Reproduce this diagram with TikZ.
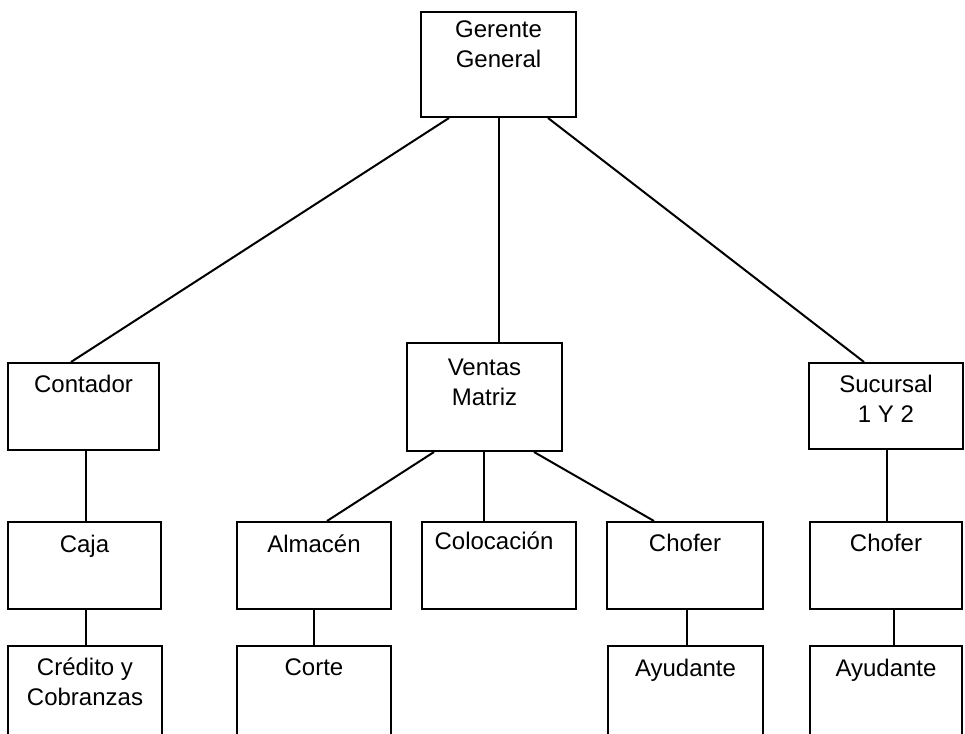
\documentclass[tikz,border=0pt]{standalone}
\usepackage{fontspec}
\setmainfont{Liberation Sans}
\begin{document}
\begin{tikzpicture}[x=1pt,y=1pt,
  box/.style={draw=black, line width=2pt, rectangle, inner sep=0pt,
              minimum width=#1},
  row1/.style={minimum height=87},
  txt/.style={anchor=base, align=center, inner sep=0pt,
              font=\fontsize{24}{30}\selectfont},
  link/.style={draw=black, line width=2pt}]
\useasboundingbox (0,0) rectangle (965,-733);
\clip (0,0) rectangle (965,-733);

% boxes
\node[box=155, minimum height=105] (ger)  at (498.5,-64.5) {};
\node[box=151, row1]               (cont) at (83.5,-406.5) {};
\node[box=155, minimum height=108] (ven)  at (484.5,-397) {};
\node[box=154, minimum height=86]  (suc)  at (886,-406) {};
\node[box=153, row1] (caja) at (84.5,-565.5) {};
\node[box=154, row1] (alm)  at (314,-565.5) {};
\node[box=154, row1] (col)  at (499,-565.5) {};
\node[box=156, row1] (cho)  at (685,-565.5) {};
\node[box=152, row1] (chob) at (886,-565.5) {};
\node[box=154, minimum height=120] (cred) at (85,-706) {};
\node[box=154, minimum height=120] (cort) at (314,-706) {};
\node[box=155, minimum height=120] (ayu)  at (685.5,-706) {};
\node[box=152, minimum height=120] (ayub) at (886,-706) {};

% labels (base anchor sits on the last line of a two-line text)
\node[txt] (ger-t)  at ([yshift=-57]ger.north)  {Gerente\\General};
\node[txt] (cont-t) at ([yshift=-30]cont.north) {Contador};
\node[txt] (ven-t)  at ([yshift=-63]ven.north)  {Ventas\\Matriz};
\node[txt] (suc-t)  at ([yshift=-60]suc.north)  {Sucursal\\1 Y 2};
\node[txt] (caja-t) at ([yshift=-31]caja.north) {Caja};
\node[txt] (alm-t)  at ([yshift=-31]alm.north)  {Almacén};
\node[txt] (col-t)  at ([xshift=-5,yshift=-28]col.north) {Colocación};
\node[txt] (cho-t)  at ([yshift=-30]cho.north)  {Chofer};
\node[txt] (chob-t) at ([yshift=-30]chob.north) {Chofer};
\node[txt] (cred-t) at ([yshift=-60]cred.north) {Crédito y\\Cobranzas};
\node[txt] (cort-t) at ([yshift=-30]cort.north) {Corte};
\node[txt] (ayu-t)  at ([yshift=-31]ayu.north)  {Ayudante};
\node[txt] (ayub-t) at ([yshift=-31]ayub.north) {Ayudante};

% connectors
\path[link] ([xshift=29]ger.south west) -- ([xshift=64]cont.north west);
\path[link] ([xshift=0.5]ger.south) -- ([xshift=0.5]ger.south |- ven.north);
\path[link] ([xshift=-29]ger.south east) -- ([xshift=56]suc.north west);
\path[link] ([xshift=2.5]cont.south) -- ([xshift=2.5]cont.south |- caja.north);
\path[link] ([xshift=1.5]caja.south) -- ([xshift=1.5]caja.south |- cred.north);
\path[link] ([xshift=28]ven.south west) -- ([xshift=91]alm.north west);
\path[link] ([xshift=-0.5]ven.south) -- ([xshift=-0.5]ven.south |- col.north);
\path[link] ([xshift=-29]ven.south east) -- ([xshift=48]cho.north west);
\path[link] (alm.south) -- (alm.south |- cort.north);
\path[link] ([xshift=2]cho.south) -- ([xshift=2]cho.south |- ayu.north);
\path[link] ([xshift=1]suc.south) -- ([xshift=1]suc.south |- chob.north);
\path[link] ([xshift=8]chob.south) -- ([xshift=8]chob.south |- ayub.north);
\end{tikzpicture}
\end{document}
